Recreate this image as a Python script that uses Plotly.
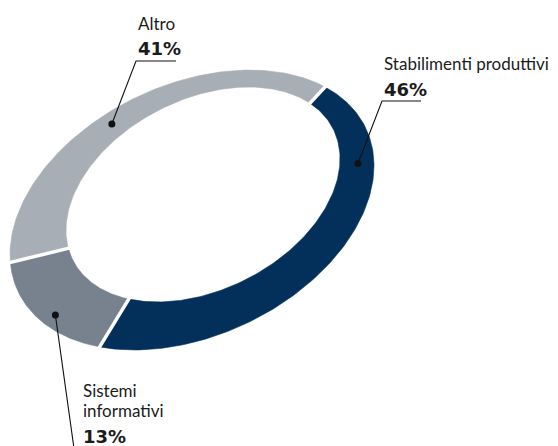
import numpy as np
import plotly.graph_objects as go

# ---------------- data ----------------
categories = ["Stabilimenti produttivi", "Sistemi informativi", "Altro"]
values = [46, 13, 41]
label_lines = [["Stabilimenti produttivi"], ["Sistemi", "informativi"], ["Altro"]]
pct_labels = ["46%", "13%", "41%"]

# ---------------- style / layout ----------------
colors = ["#03305A", "#77828E", "#A8AEB6"]
W, H = 558, 446
PAGE_OFF = 8  # default body margin of the html page
# tilted (perspective-like) ring: outer and inner ellipse, with angular warp
OUTER = dict(cx=192.0, cy=210.0, a=192.1, b=125.7, rot=-25.05, psi=152.0, rho=1.21, shift=0.0)
INNER = dict(cx=203.0, cy=194.5, a=145.8, b=95.3, rot=-26.8, psi=260.0, rho=1.04, shift=3.0)
START_DEG = -25.6
DOT_FRAC = [0.28, 0.42, 0.415]   # where the leader dot sits inside each slice
DOT_RAD = [0.55, 0.78, 0.55]     # radial position of the dot (0 inner, 1 outer)
# leader elbow (x, y) and end of underline x
ELBOWS = [(382.0, 101.0, 421.0), (74.5, 452.0, 110.0), (136.0, 61.0, 176.0)]
# text anchor: left x, baseline of first label line, line step, pct baseline
TEXT_POS = [(382.5, 70.5, 0, 96.0), (81.5, 397.0, 20.0, 443.0), (136.5, 30.0, 0, 55.0)]
REG_FONT = dict(family="Lato, 'Noto Sans', sans-serif", size=17, color="#1b1b1b")
BOLD_FONT = dict(family="'DejaVu Sans', sans-serif", size=18, color="#1b1b1b")
REG_BASE_OFF = 6.6    # baseline minus box centre (Lato 17)
BOLD_BASE_OFF = 6.2   # baseline minus box centre (DejaVu Bold 18)


def ring_point(g, th_deg):
    th = np.radians(np.asarray(th_deg, dtype=float))
    psi = np.radians(g["psi"])
    h = (th - psi) / 2.0
    phi = psi + 2.0 * np.arctan2(g["rho"] * np.sin(h), np.cos(h)) + np.radians(g["shift"])
    lx = g["a"] * np.cos(phi)
    ly = g["b"] * np.sin(phi)
    r = np.radians(g["rot"])
    x = g["cx"] + lx * np.cos(r) - ly * np.sin(r)
    y = g["cy"] + lx * np.sin(r) + ly * np.cos(r)
    return x, y


total = float(sum(values))
bounds = START_DEG + 360.0 * np.concatenate([[0.0], np.cumsum(values)]) / total

fig = go.Figure()

# slices
for i, cat in enumerate(categories):
    t = np.linspace(bounds[i], bounds[i + 1], 160)
    ox, oy = ring_point(OUTER, t)
    ix, iy = ring_point(INNER, t[::-1])
    xs = np.concatenate([ox, ix, ox[:1]])
    ys = np.concatenate([oy, iy, oy[:1]])
    fig.add_trace(go.Scatter(
        x=xs, y=ys, mode="lines", fill="toself", fillcolor=colors[i],
        line=dict(color=colors[i], width=0.6), name=cat, hoverinfo="name",
    ))

# white separators between slices
for b in bounds[:-1]:
    ox, oy = ring_point(OUTER, b)
    ix, iy = ring_point(INNER, b)
    dx, dy = ox - ix, oy - iy
    n = np.hypot(dx, dy)
    dx, dy = dx / n, dy / n
    fig.add_trace(go.Scatter(
        x=[ox + 5 * dx, ix - 5 * dx], y=[oy + 5 * dy, iy - 5 * dy], mode="lines",
        line=dict(color="white", width=3.5), hoverinfo="skip",
    ))

# leader lines, dots and labels
annotations = []
for i, cat in enumerate(categories):
    th = bounds[i] + DOT_FRAC[i] * (bounds[i + 1] - bounds[i])
    ox, oy = ring_point(OUTER, th)
    ix, iy = ring_point(INNER, th)
    px, py = ix + DOT_RAD[i] * (ox - ix), iy + DOT_RAD[i] * (oy - iy)
    ex, ey, ux = ELBOWS[i]
    fig.add_trace(go.Scatter(
        x=[float(px), ex, ux], y=[float(py), ey, ey], mode="lines",
        line=dict(color="#111111", width=1.1), hoverinfo="skip",
    ))
    fig.add_trace(go.Scatter(
        x=[float(px)], y=[float(py)], mode="markers",
        marker=dict(color="#111111", size=7), hoverinfo="skip",
    ))
    tx, base, step, pbase = TEXT_POS[i]
    for k, line in enumerate(label_lines[i]):
        annotations.append(dict(
            x=tx, y=base + k * step - REG_BASE_OFF, xref="x", yref="y", text=line,
            showarrow=False, xanchor="left", yanchor="middle", font=REG_FONT, borderpad=0,
        ))
    annotations.append(dict(
        x=tx, y=pbase - BOLD_BASE_OFF, xref="x", yref="y", text="<b>%s</b>" % pct_labels[i],
        showarrow=False, xanchor="left", yanchor="middle", font=BOLD_FONT, borderpad=0,
    ))

fig.update_layout(
    width=W, height=H, margin=dict(l=0, r=0, t=0, b=0),
    paper_bgcolor="white", plot_bgcolor="white", showlegend=False,
    xaxis=dict(range=[PAGE_OFF, W + PAGE_OFF], visible=False, fixedrange=True),
    yaxis=dict(range=[H + PAGE_OFF, PAGE_OFF], visible=False, fixedrange=True),
    annotations=annotations,
)

fig.write_html("out.html")
